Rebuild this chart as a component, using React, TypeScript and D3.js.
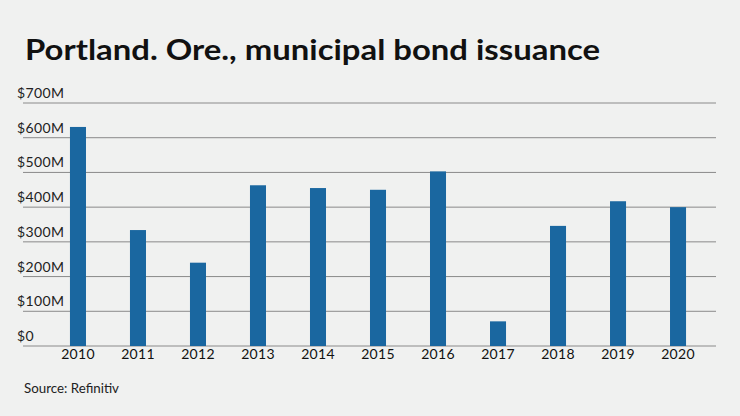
import React from "react";
import * as d3 from "d3";

const years = ["2010","2011","2012","2013","2014","2015","2016","2017","2018","2019","2020"];
const issuance = [631, 334, 240, 463, 455, 450, 503, 71, 346, 417, 400];
const yTicks = [0, 100, 200, 300, 400, 500, 600, 700];
const title = "Portland. Ore., municipal bond issuance";
const source = "Source: Refinitiv";

export default function App() {
  const W = 740, H = 416;
  const x = d3.scaleBand<string>().domain(years).range([48, 708]).paddingInner(0.733).paddingOuter(0.366);
  const y = d3.scaleLinear().domain([0, 700]).range([346, 103]);
  const font = "Lato, 'Open Sans', sans-serif";
  const fmt = (v: number) => (v === 0 ? "$0" : `$${v}M`);
  return (
    <svg width={W} height={H} style={{ position: "absolute", left: 0, top: 0, background: "#f0f1f0" }}>
      <rect x={0} y={0} width={W} height={H} fill="#f0f1f0" />
      <text x={25} y={60} fontFamily={font} fontWeight={700} fontSize={29} fill="#111" textLength={575} lengthAdjust="spacingAndGlyphs">{title}</text>
      {yTicks.map((t) => (
        <g key={t}>
          <line x1={23} x2={716} y1={y(t)} y2={y(t)} stroke="#8a8a8a" strokeWidth={1} />
          <text x={17} y={y(t) - 5} fontFamily={font} fontSize={14} letterSpacing={0.4} fill="#222">{fmt(t)}</text>
        </g>
      ))}
      {years.map((yr, i) => (
        <g key={yr}>
          <rect x={x(yr)} y={y(issuance[i])} width={x.bandwidth()} height={y(0) - y(issuance[i])} fill="#1a67a0" />
          <text x={(x(yr) as number) + x.bandwidth() / 2} y={359} textAnchor="middle" fontFamily={font} fontSize={14} letterSpacing={0.3} fill="#111">{yr}</text>
        </g>
      ))}
      <text x={24} y={393} fontFamily={font} fontSize={13.5} fill="#222" textLength={95} lengthAdjust="spacingAndGlyphs">{source}</text>
    </svg>
  );
}
